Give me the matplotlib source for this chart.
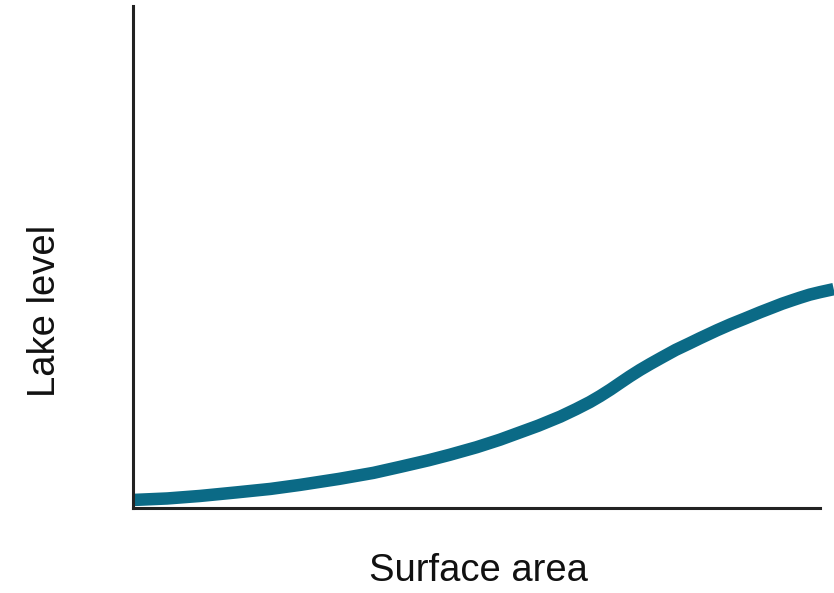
import matplotlib
matplotlib.use("Agg")
import matplotlib.pyplot as plt

# Curve points (x: surface area, y: lake level; normalised 0..1)
area = [0.0, 0.05, 0.0975, 0.15, 0.2, 0.243, 0.3, 0.35, 0.389, 0.43, 0.461, 0.5, 0.534, 0.56, 0.59, 0.622,
        0.645, 0.665, 0.680, 0.695, 0.71, 0.723, 0.738, 0.753, 0.77, 0.79, 0.81, 0.825, 0.85, 0.87,
        0.89, 0.913, 0.93, 0.945, 0.96, 0.971, 0.985, 1.0, 1.020]
level = [0.016, 0.019, 0.024, 0.031, 0.038, 0.046, 0.058, 0.070, 0.082, 0.095, 0.106, 0.121, 0.136, 0.149, 0.164, 0.182,
         0.197, 0.211, 0.223, 0.236, 0.250, 0.262, 0.275, 0.287, 0.300, 0.315, 0.328, 0.338, 0.354, 0.366,
         0.377, 0.390, 0.399, 0.407, 0.414, 0.419, 0.425, 0.430, 0.436]

x_label = "Surface area"
y_label = "Lake level"

plt.rcParams['font.family'] = ['Liberation Sans', 'DejaVu Sans']

fig = plt.figure(figsize=(8.34, 5.93), dpi=100)
ax = fig.add_axes([133/834, 85/593, 687/834, 502/593])
ax.plot(area, level, color='#0b6a86', linewidth=9.0, solid_capstyle='butt',
        solid_joinstyle='round', clip_on=False)
ax.set_xlim(0, 1)
ax.set_ylim(0, 1)
for s in ['top', 'right']:
    ax.spines[s].set_visible(False)
for s in ['left', 'bottom']:
    ax.spines[s].set_linewidth(2.2)
    ax.spines[s].set_color('#222222')
ax.set_xticks([])
ax.set_yticks([])

fig.text(478/834, 1 - 571/593, x_label, ha='center', va='center', fontsize=27.5, color='#111111')
fig.text(45/834, 1 - 311/593, y_label, ha='center', va='center', rotation=90, fontsize=27.5, color='#111111')

fig.savefig('out.png', dpi=100)
